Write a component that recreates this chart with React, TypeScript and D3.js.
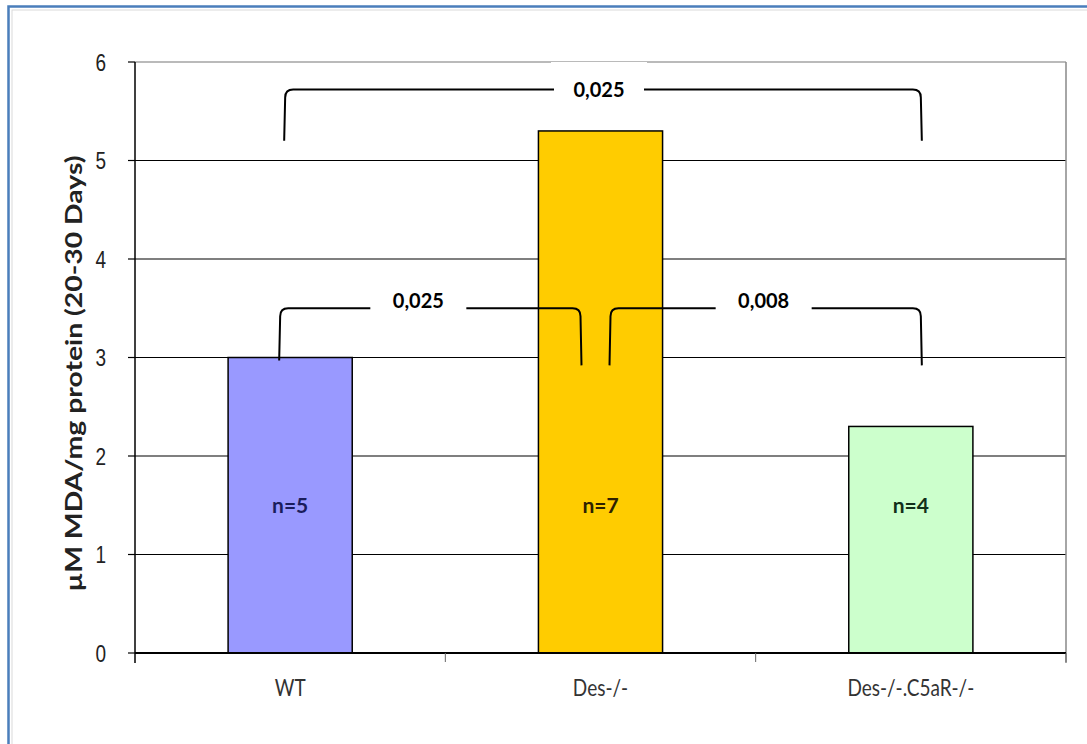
import React from "react";
import * as d3 from "d3";

// Groups and measured values
const categories = ["WT", "Des-/-", "Des-/-.C5aR-/-"];
const values = [3.0, 5.3, 2.3];
const counts = ["n=5", "n=7", "n=4"];
const barColors = ["#9999FF", "#FFCC00", "#CCFFCC"];
const countColors = ["#1b1d5c", "#2e2100", "#12301a"];
const yTicks = [0, 1, 2, 3, 4, 5, 6];

// Significance brackets: group indexes, bracket level and leg ends (data units)
const brackets = [
  { from: 0, to: 2, level: 5.72, footA: 5.2, footB: 5.2, p: "0,025", offA: -5, offB: 10, box: true },
  { from: 0, to: 1, level: 3.5, footA: 2.97, footB: 2.92, p: "0,025", offA: -10, offB: -20, box: false },
  { from: 1, to: 2, level: 3.5, footA: 2.92, footB: 2.92, p: "0,008", offA: 10, offB: 10, box: false },
];

const W = 1087;
const H = 744;
const plot = { left: 135, right: 1066, top: 62, bottom: 653 };
const LABEL_FONT = "Lato, 'Open Sans', sans-serif";

export default function App() {
  const x = d3
    .scaleBand<string>()
    .domain(categories)
    .range([plot.left, plot.right])
    .paddingInner(0)
    .paddingOuter(0);
  const y = d3.scaleLinear().domain([0, 6]).range([plot.bottom, plot.top]);
  const bw = x.bandwidth();
  const barW = bw * 0.4;
  const cx = (i: number) => (x(categories[i]) as number) + bw / 2;

  const bracketPath = (b: typeof brackets[number], gapL: number, gapR: number) => {
    const xa = cx(b.from) + b.offA;
    const xb = cx(b.to) + b.offB;
    const yl = y(b.level);
    const r = 8;
    const left = `M${xa - 1},${y(b.footA)} L${xa},${yl + r} Q${xa},${yl} ${xa + r},${yl} L${gapL},${yl}`;
    const right = `M${gapR},${yl} L${xb - r},${yl} Q${xb},${yl} ${xb},${yl + r} L${xb + 1},${y(b.footB)}`;
    return left + " " + right;
  };

  return (
    <svg
      width={W}
      height={H}
      style={{ position: "absolute", left: 0, top: 0, background: "#fff" }}
    >
      {/* outer frame */}
      <rect x={8.5} y={6.5} width={W + 20} height={H + 20} fill="#fff" stroke="#4A7EBB" strokeWidth={2.5} />
      <rect x={12} y={10} width={W + 20} height={H + 20} fill="none" stroke="#d9d9d9" strokeWidth={1} />

      {/* gridlines */}
      {yTicks.filter((t) => t > 0).map((t) => (
        <line
          key={"g" + t}
          x1={plot.left}
          x2={plot.right}
          y1={y(t)}
          y2={y(t)}
          stroke={t === 6 ? "#777" : "#000"}
          strokeWidth={1.2}
        />
      ))}
      {/* right border of plot area */}
      <line x1={plot.right} x2={plot.right} y1={plot.top} y2={plot.bottom + 10} stroke="#888" strokeWidth={1.5} />

      {/* bars */}
      {values.map((v, i) => (
        <rect
          key={"b" + i}
          x={cx(i) - barW / 2}
          y={y(v)}
          width={barW}
          height={y(0) - y(v)}
          fill={barColors[i]}
          stroke="#000"
          strokeWidth={1.5}
        />
      ))}

      {/* y axis */}
      <line x1={plot.left} x2={plot.left} y1={plot.top} y2={plot.bottom + 10} stroke="#000" strokeWidth={1.5} />
      {yTicks.map((t) => (
        <g key={"t" + t}>
          <line x1={plot.left - 7} x2={plot.left} y1={y(t)} y2={y(t)} stroke="#000" strokeWidth={1.2} />
          <text
            x={106}
            y={y(t)}
            dy="0.36em"
            textAnchor="end"
            fontFamily="'Liberation Sans', Arial, sans-serif"
            fontSize={19}
            fill="#222"
            transform={`translate(0,${y(t)}) scale(1,1.3) translate(0,${-y(t)})`}
          >
            {t}
          </text>
        </g>
      ))}

      {/* x axis */}
      <line x1={plot.left} x2={plot.right} y1={plot.bottom} y2={plot.bottom} stroke="#000" strokeWidth={2} />
      {categories.map((c, i) => (
        <g key={"c" + i}>
          <line
            x1={(x(c) as number) + bw}
            x2={(x(c) as number) + bw}
            y1={plot.bottom}
            y2={plot.bottom + 9}
            stroke="#666"
            strokeWidth={1}
          />
          <text
            x={cx(i)}
            y={696}
            textAnchor="middle"
            fontFamily={LABEL_FONT}
            fontSize={19}
            fill="#333"
            transform={`translate(0,696) scale(1,1.25) translate(0,-696)`}
          >
            {c}
          </text>
        </g>
      ))}

      {/* group sizes */}
      {counts.map((n, i) => (
        <text
          key={"n" + i}
          x={cx(i)}
          y={y(1.5)}
          dy="0.35em"
          textAnchor="middle"
          fontFamily={LABEL_FONT}
          fontWeight="bold"
          fontSize={21}
          fill={countColors[i]}
        >
          {n}
        </text>
      ))}

      {/* significance brackets */}
      {brackets.map((b, i) => {
        const xa = cx(b.from) + b.offA;
        const xb = cx(b.to) + b.offB;
        const mid = (xa + xb) / 2 + (i === 1 ? -12 : i === 2 ? -2 : -4);
        const half = b.box ? 45 : 48;
        const yl = y(b.level);
        return (
          <g key={"br" + i}>
            {b.box && (
              <rect x={mid - 48} y={plot.top} width={96} height={yl - plot.top + 16} fill="#fff" />
            )}
            <path d={bracketPath(b, mid - half, mid + half)} fill="none" stroke="#000" strokeWidth={2} />
            <text
              x={mid}
              y={b.box ? yl : yl - 7}
              dy="0.35em"
              textAnchor="middle"
              fontFamily={LABEL_FONT}
              fontWeight="bold"
              fontSize={20}
              fill="#000"
            >
              {b.p}
            </text>
          </g>
        );
      })}

      {/* y axis title */}
      <text
        transform={`translate(82,${(plot.top + plot.bottom) / 2 + 16}) rotate(-90)`}
        textAnchor="middle"
        fontFamily={LABEL_FONT}
        fontWeight="bold"
        fontSize={22}
        fill="#222"
        textLength={436}
        lengthAdjust="spacingAndGlyphs"
      >
        µM MDA/mg protein (20-30 Days)
      </text>
    </svg>
  );
}
